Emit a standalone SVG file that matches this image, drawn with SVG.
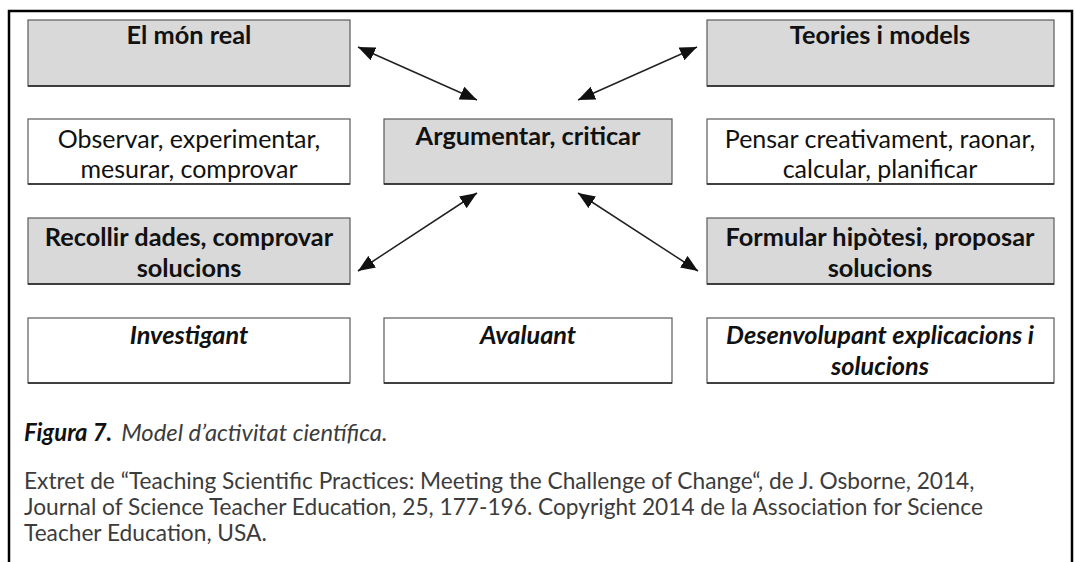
<svg xmlns="http://www.w3.org/2000/svg" width="1076" height="562" viewBox="0 0 1076 562">
  <style>
    .box { stroke: #5a5a5a; stroke-width: 1.2; }
    .grey { fill: #d9d9d9; }
    .white { fill: #ffffff; }
    .base { stroke: #222; stroke-width: 1.6; }
    .t { font-family: Lato, "Open Sans", "Liberation Sans", sans-serif; font-size: 25px; fill: #111; text-anchor: middle; }
    .b { font-weight: bold; font-size: 25.3px; }
    .i { font-style: italic; }
    .cap { font-family: Lato, "Open Sans", "Liberation Sans", sans-serif; font-size: 22.7px; fill: #3c3c3c; }
    .fig { font-size: 23.8px; }
    .link { stroke: #222; stroke-width: 1.5; fill: none; marker-start: url(#head); marker-end: url(#head); }
  </style>
  <defs>
    <marker id="head" markerUnits="userSpaceOnUse" markerWidth="18" markerHeight="14" refX="17" refY="7" orient="auto-start-reverse">
      <path d="M0,0 L17,7 L0,14 Z" fill="#111"/>
    </marker>
  </defs>

  <rect width="1076" height="562" fill="#ffffff"/>

  <!-- frame -->
  <path d="M9,562 V11 H1072 V562" fill="none" stroke="#000" stroke-width="2.5"/>

  <!-- row 1 -->
  <g id="mon-real">
    <rect class="box grey" x="28" y="20" width="322" height="66"/>
    <line class="base" x1="28" y1="86" x2="350" y2="86"/>
    <text class="t b" x="189" y="44">El món real</text>
  </g>
  <g id="teories">
    <rect class="box grey" x="707" y="20" width="347" height="66"/>
    <line class="base" x1="707" y1="86" x2="1054" y2="86"/>
    <text class="t b" x="880" y="44">Teories i models</text>
  </g>

  <!-- row 2 -->
  <g id="observar">
    <rect class="box white" x="28" y="119" width="322" height="65"/>
    <line class="base" x1="28" y1="184" x2="350" y2="184"/>
    <text class="t" x="189" y="148">Observar, experimentar,</text>
    <text class="t" x="189" y="178">mesurar, comprovar</text>
  </g>
  <g id="argumentar">
    <rect class="box grey" x="384" y="119" width="288" height="65"/>
    <line class="base" x1="384" y1="184" x2="672" y2="184"/>
    <text class="t b" x="528" y="145">Argumentar, criticar</text>
  </g>
  <g id="pensar">
    <rect class="box white" x="707" y="119" width="347" height="65"/>
    <line class="base" x1="707" y1="184" x2="1054" y2="184"/>
    <text class="t" x="880" y="148">Pensar creativament, raonar,</text>
    <text class="t" x="880" y="178">calcular, planificar</text>
  </g>

  <!-- row 3 -->
  <g id="recollir">
    <rect class="box grey" x="28" y="218" width="322" height="66"/>
    <line class="base" x1="28" y1="284" x2="350" y2="284"/>
    <text class="t b" x="189" y="246">Recollir dades, comprovar</text>
    <text class="t b" x="189" y="277">solucions</text>
  </g>
  <g id="formular">
    <rect class="box grey" x="707" y="218" width="347" height="66"/>
    <line class="base" x1="707" y1="284" x2="1054" y2="284"/>
    <text class="t b" x="880" y="246">Formular hipòtesi, proposar</text>
    <text class="t b" x="880" y="277">solucions</text>
  </g>

  <!-- row 4 -->
  <g id="investigant">
    <rect class="box white" x="28" y="318" width="322" height="65"/>
    <line class="base" x1="28" y1="383" x2="350" y2="383"/>
    <text class="t b i" x="189" y="344">Investigant</text>
  </g>
  <g id="avaluant">
    <rect class="box white" x="384" y="318" width="288" height="65"/>
    <line class="base" x1="384" y1="383" x2="672" y2="383"/>
    <text class="t b i" x="528" y="344">Avaluant</text>
  </g>
  <g id="desenvolupant">
    <rect class="box white" x="707" y="318" width="347" height="65"/>
    <line class="base" x1="707" y1="383" x2="1054" y2="383"/>
    <text class="t b i" x="880" y="344">Desenvolupant explicacions i</text>
    <text class="t b i" x="880" y="375">solucions</text>
  </g>

  <!-- connectors -->
  <g id="connectors">
    <line class="link" x1="358" y1="47" x2="477" y2="100"/>
    <line class="link" x1="697" y1="47" x2="578" y2="100"/>
    <line class="link" x1="477" y1="193" x2="358" y2="271"/>
    <line class="link" x1="578" y1="193" x2="698" y2="271"/>
  </g>

  <!-- caption and source -->
  <g id="caption">
    <text class="cap fig" x="24" y="441"><tspan font-weight="bold" font-style="italic" fill="#111">Figura 7.</tspan><tspan font-style="italic" dx="9">Model d’activitat científica.</tspan></text>
    <text class="cap" x="24" y="489">Extret de “Teaching Scientific Practices: Meeting the Challenge of Change“, de J. Osborne, 2014,</text>
    <text class="cap" x="24" y="515">Journal of Science Teacher Education, 25, 177-196. Copyright 2014 de la Association for Science</text>
    <text class="cap" x="24" y="541">Teacher Education, USA.</text>
  </g>
</svg>
